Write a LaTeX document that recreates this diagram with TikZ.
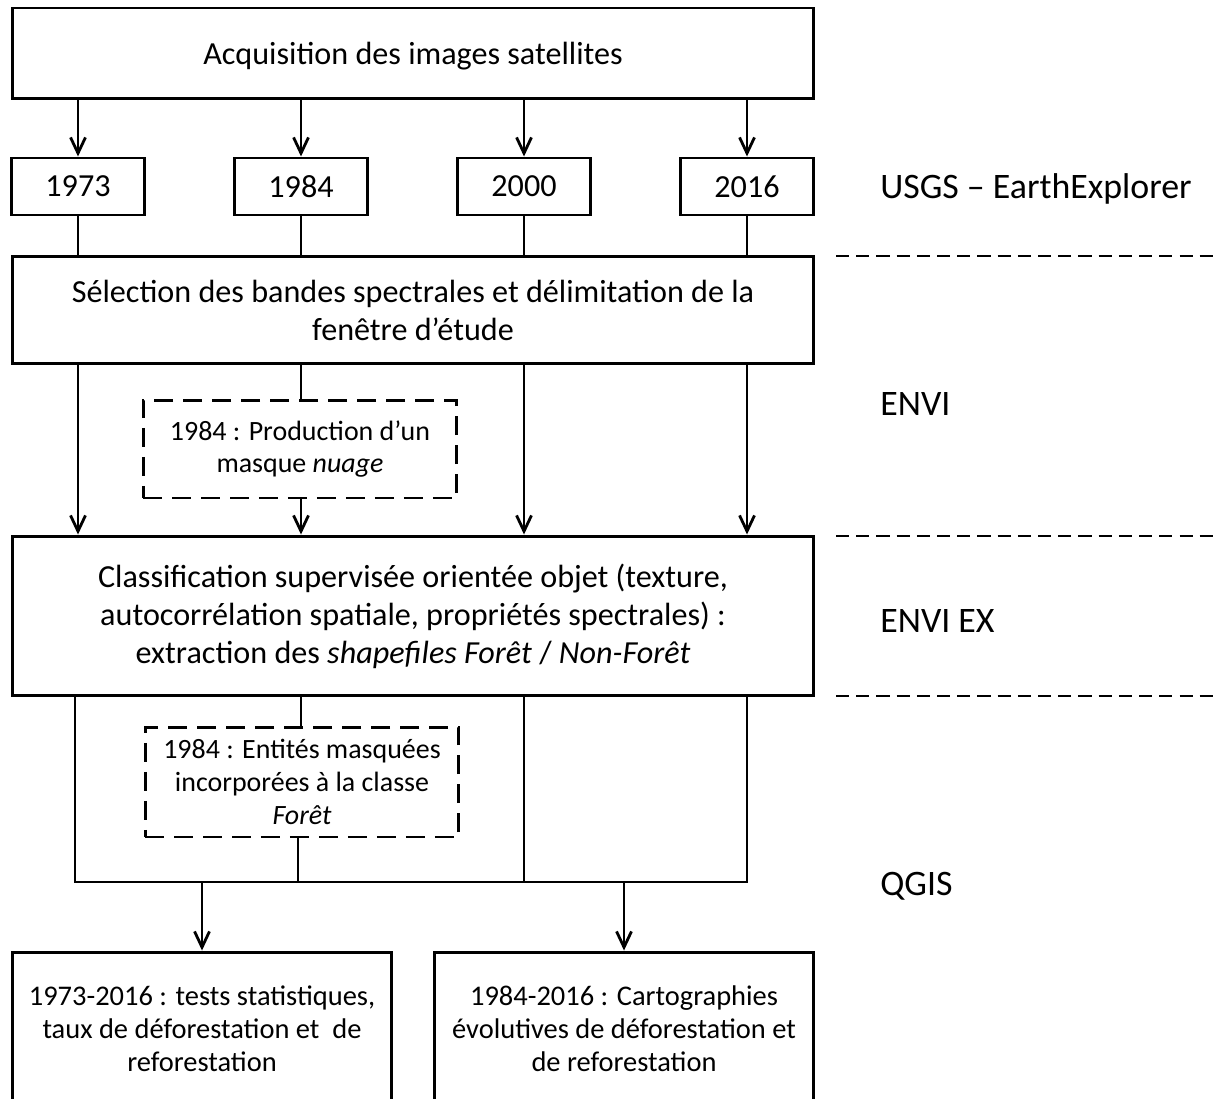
\documentclass[tikz,border=0pt]{standalone}
\usepackage{fontspec}
\setmainfont{Carlito}
\usetikzlibrary{positioning,arrows.meta}

\begin{document}
\begin{tikzpicture}[x=0.02cm, y=-0.02cm,
    every node/.style={inner sep=0pt, align=center, font=\fontsize{18.3}{21.6}\selectfont},
    box/.style={draw, line width=1.7pt},
    maschera/.style={draw, line width=1.7pt, dash pattern=on 11pt off 5.5pt, font=\fontsize{15.9}{18.7}\selectfont},
    etichetta/.style={anchor=west, font=\fontsize{20.4}{24}\selectfont},
    freccia/.style={-{Straight Barb[length=9pt,width=8.5pt]}, line width=1.6pt},
    linea/.style={line width=1.6pt}]
        \clip (0,0) rectangle (1219,1098);

        % Acquisizione
        \node (acq) at (413,53.5) [box, minimum width=16.04cm, minimum height=1.82cm, text depth=0pt] {Acquisition des images satellites};

        % Anni
        \node (a73) at (78,186.5) [box, minimum width=2.66cm, minimum height=1.14cm] {1973};
        \node (a84) at (301,186.5) [box, minimum width=2.66cm, minimum height=1.14cm] {1984};
        \node (a00) at (524,186.5) [box, minimum width=2.66cm, minimum height=1.14cm] {2000};
        \node (a16) at (747,186.5) [box, minimum width=2.66cm, minimum height=1.14cm] {2016};

        % Selezione e classificazione
        \node (sel) at (413,310) [box, minimum width=16.04cm, minimum height=2.16cm] {S\'election des bandes spectrales et d\'elimitation de la\\fen\^etre d’\'etude};
        \node (nuv) at (300,449) [maschera, minimum width=6.28cm, minimum height=1.96cm] {1984 : Production d’un\\masque \textit{nuage}};
        \node (cls) at (413,616) [box, minimum width=16.04cm, minimum height=3.2cm] {Classification supervis\'ee orient\'ee objet (texture,\\autocorr\'elation spatiale, propri\'et\'es spectrales) :\\extraction des \textit{shapefiles For\^et} / \textit{Non-For\^et}};
        \node (ent) at (302,782) [maschera, minimum width=6.28cm, minimum height=2.2cm] {1984 : Entit\'es masqu\'ees\\incorpor\'ees \`a la classe\\\textit{For\^et}};

        % Risultati
        \node (bl) at (202,1029) [box, minimum width=7.6cm, minimum height=3.08cm, font=\fontsize{16.2}{18.9}\selectfont] {1973-2016 : tests statistiques,\\taux de d\'eforestation et~~de\\reforestation};
        \node (br) at (624,1029) [box, minimum width=7.6cm, minimum height=3.08cm, font=\fontsize{16.2}{18.9}\selectfont] {1984-2016 : Cartographies\\\'evolutives de d\'eforestation et\\de reforestation};

        % Software
        \node (usgs) at (880,189) [etichetta] {USGS -- EarthExplorer};
        \node (envi) at (880,404) [etichetta] {ENVI};
        \node (envx) at (880,621) [etichetta] {ENVI EX};
        \node (qgis) at (880,886) [etichetta] {QGIS};
        \foreach \y in {256,536,696}
            \draw[line width=1.6pt, dash pattern=on 7.5pt off 4pt] (836,\y) -- (1219,\y);

        % Collegamenti
        \foreach \n in {a73,a84,a00,a16} {
            \draw[freccia] (acq.south -| \n) -- (\n);
            \draw[linea] (\n) -- (\n |- sel.north);
        }
        \draw[freccia] (sel.south -| a73) -- (cls.north -| a73);
        \draw[linea] (sel.south -| a84) -- (nuv.north -| a84);
        \draw[freccia] (nuv.south -| a84) -- (cls.north -| a84);
        \draw[freccia] (sel.south -| a00) -- (cls.north -| a00);
        \draw[freccia] (sel.south -| a16) -- (cls.north -| a16);

        \coordinate (g1) at (75,882);
        \coordinate (g2) at (747,882);
        \draw[linea] (cls.south -| g1) -- (g1) -- (g2) -- (cls.south -| g2);
        \draw[linea] (cls.south -| a84) -- (ent.north -| a84);
        \draw[linea] (ent.south -| 298,0) -- (298,882);
        \draw[linea] (cls.south -| a00) -- (a00 |- g1);
        \draw[freccia] (bl |- g1) -- (bl);
        \draw[freccia] (br |- g1) -- (br);
    \end{tikzpicture}
\end{document}
